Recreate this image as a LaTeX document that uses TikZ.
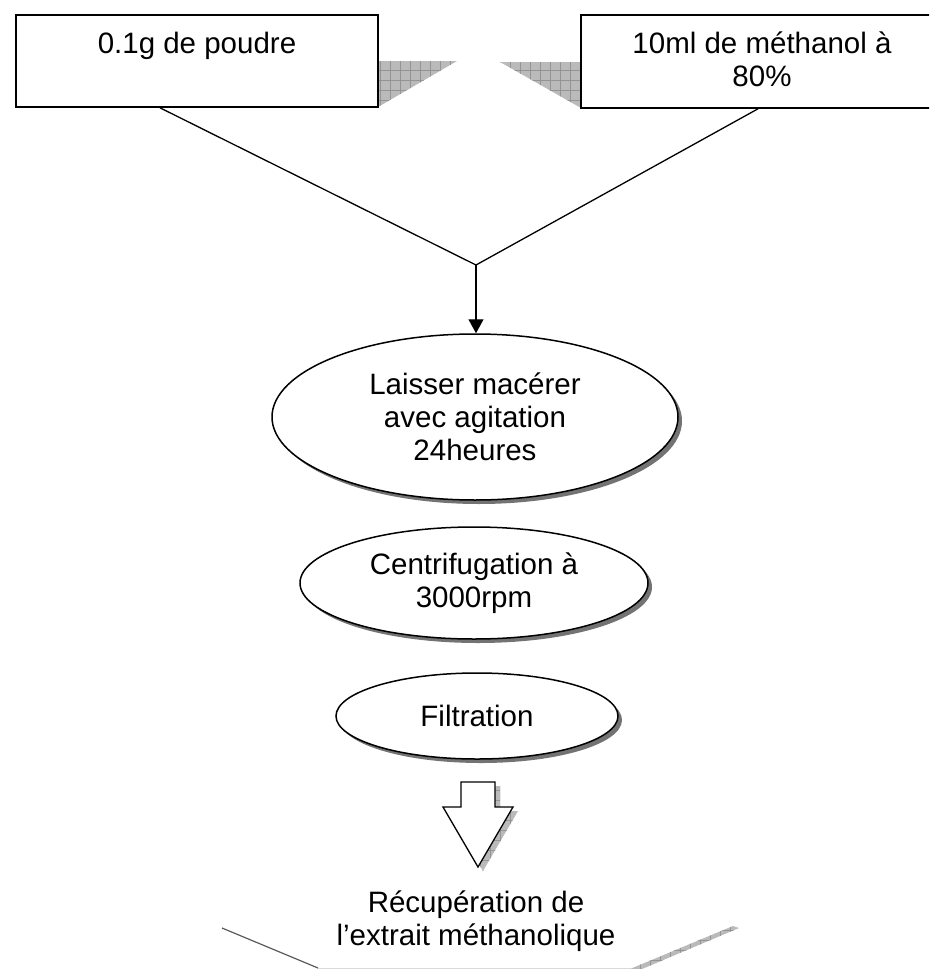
\documentclass[tikz,border=0pt]{standalone}
\usepackage{fontspec}
\setmainfont{Liberation Sans}
\usetikzlibrary{shapes.geometric,shadows,calc,arrows.meta}

% grey shadow with a fine grid, clipped to the given path
\newcommand\gridshade[1]{%
  \fill[hatchfill] #1;
  \begin{scope}
    \clip #1;
    \draw[hatchgrid, step=10pt] (0,0) grid (940,970);
  \end{scope}}

\begin{document}
\begin{tikzpicture}[x=1pt,y=-1pt,
  font=\fontsize{29.5}{33}\selectfont,
  stepbox/.style={draw, line width=1.6pt, fill=white, rectangle, inner sep=0pt},
  stage/.style={draw, line width=1.5pt, fill=white, ellipse, inner sep=0pt, align=center,
    drop shadow={shadow xshift=4pt, shadow yshift=-4pt, fill=black!55, opacity=1}},
  link/.style={line width=1.3pt},
  hatchfill/.style={fill=black!27},
  hatchgrid/.style={draw=black!42, line width=0.6pt},
]
\path[use as bounding box, clip] (0,0) rectangle (929,969);

% shadows between the two input boxes
\gridshade{(378,61) -- (457,61) -- (378,107) -- cycle}
\gridshade{(500,62) -- (581,62) -- (581,108) -- cycle}

% inputs
\node[stepbox] (powder) at (197,61)
  {\parbox[c][92pt][t]{362pt}{\centering\rule{0pt}{38pt}0.1g de poudre}};
\node[stepbox] (solvent) at (762,61.5)
  {\parbox[c][93pt][t]{362pt}{\centering\rule{0pt}{38pt}10ml de méthanol à\\80\%}};

% process steps
\node[stage, minimum width=406pt, minimum height=166pt] (macer) at (475,417)
  {Laisser macérer\\avec agitation\\24heures};
\node[stage, minimum width=348pt, minimum height=112pt] (centri) at (474,583)
  {Centrifugation à\\3000rpm};
\node[stage, minimum width=282pt, minimum height=86pt] (filtr) at (477,716)
  {Filtration};

% mixing the two inputs
\coordinate (join) at (476,265);
\coordinate (pl) at ($(powder.south)+(-37,0)$);
\coordinate (sr) at ($(solvent.south)+(-4,0)$);
\draw[link] (pl) -- (join) -- (sr);
\draw[link, -{Triangle[length=14pt,width=15pt]}] (join) -- (join |- macer.north);

% block arrow with its shadow
\gridshade{[shift={(5,4)}] (461,782) -- (495,782) -- (495,807) -- (513,807) -- (478,867) -- (443,807) -- (461,807) -- cycle}
\draw[line width=1.3pt, fill=white] (461,782) -- (495,782) -- (495,807) -- (513,807)
  -- (478,867) -- (443,807) -- (461,807) -- cycle;

% result
\node[align=center] (recup) at (476,921) {Récupération de\\l’extrait méthanolique};
\coordinate (bl) at (222,928);
\coordinate (bm) at (318,968);
\coordinate (bn) at (630,968);
\draw[line width=1.2pt, draw=black!65] (bl) -- (bm);
\draw[line width=0.6pt, draw=black!15] (bm) -- (bn);
\gridshade{(630,969) -- (733,926) -- (739,928) -- (642,969) -- cycle}
\end{tikzpicture}
\end{document}
